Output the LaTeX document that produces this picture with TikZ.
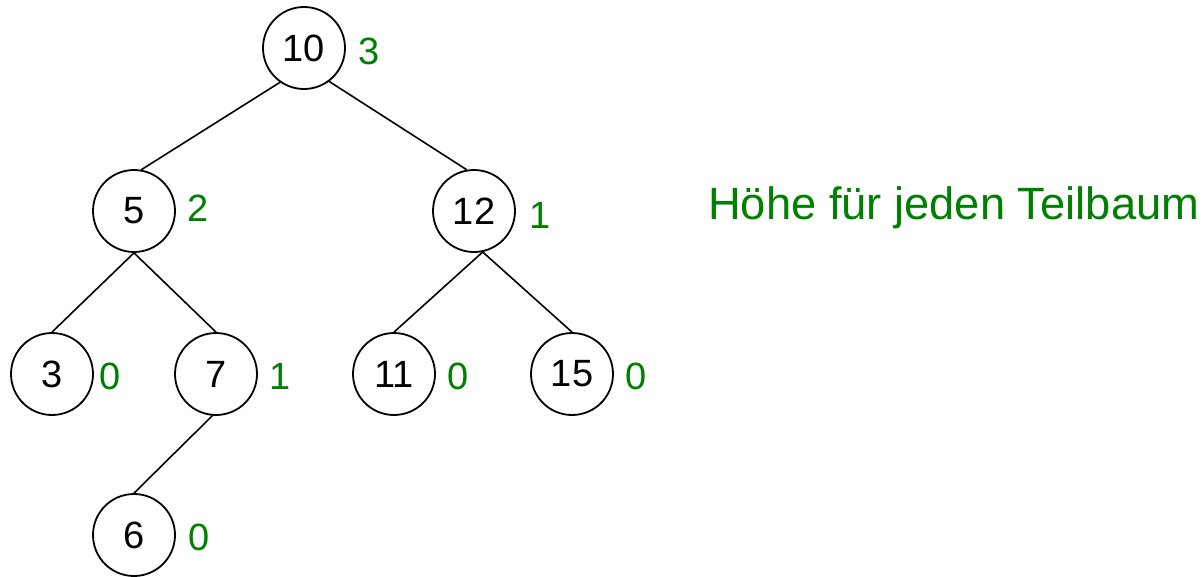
\documentclass[tikz,border=0pt]{standalone}
\usepackage{fontspec}
\setmainfont{Liberation Sans}
\definecolor{hgreen}{RGB}{0,128,0}
\begin{document}
\begin{tikzpicture}[x=1pt,y=-1pt,
  tnode/.style={circle,draw=black,line width=1.8pt,minimum size=82pt,inner sep=0pt,font=\fontsize{38}{44}\selectfont},
  hlabel/.style={text=hgreen,inner sep=0pt,font=\fontsize{38}{46}\selectfont},
  edge/.style={draw=black,line width=1.6pt}]
\useasboundingbox (0,0) rectangle (1204,576);
\node[tnode] (n10) at (304,48) {10};
\node[tnode] (n5) at (134,211) {5};
\node[tnode] (n12) at (474,211) {12};
\node[tnode] (n3) at (52,374) {3};
\node[tnode] (n7) at (216,374) {7};
\node[tnode] (n11) at (394,374) {11};
\node[tnode] (n15) at (572,374) {15};
\node[tnode] (n6) at (134,535) {6};

\node[hlabel] (h10) at (369,51) {3};
\node[hlabel] (h5) at (198,208) {2};
\node[hlabel] (h12) at (540,215) {1};
\node[hlabel] (h3) at (110,376) {0};
\node[hlabel] (h7) at (280,376) {1};
\node[hlabel] (h11) at (458,376) {0};
\node[hlabel] (h15) at (636,376) {0};
\node[hlabel] (h6) at (199,537) {0};

\node[text=hgreen,inner sep=0pt,anchor=base west,font=\fontsize{45.3}{52}\selectfont] (title) at (708,219) {Höhe für jeden Teilbaum};

\draw[edge] (n10.235) -- (n5.80);
\draw[edge] (n10.-53) -- (n12.100);
\draw[edge] (n5.south) -- (n3.north);
\draw[edge] (n5.south) -- (n7.north);
\draw[edge] (n12.-78) -- (n11.north);
\draw[edge] (n12.-78) -- (n15.north);
\draw[edge] (n7.-95) -- (n6.north);
\end{tikzpicture}
\end{document}
